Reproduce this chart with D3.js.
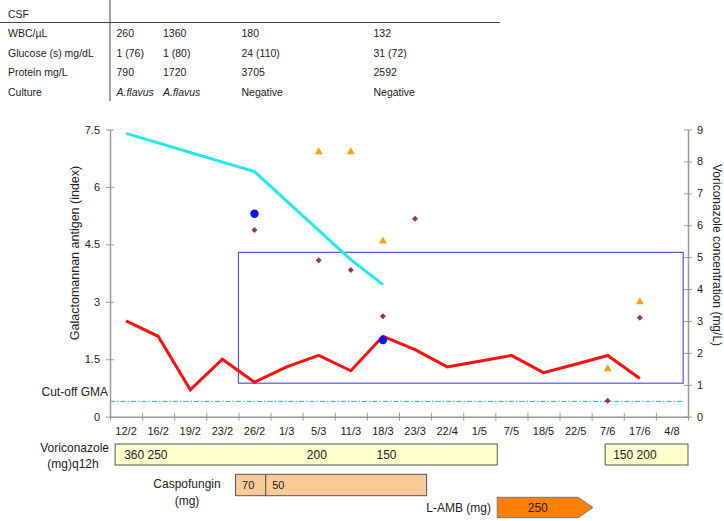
<!DOCTYPE html>
<html><head><meta charset="utf-8">
<script src="https://cdn.jsdelivr.net/npm/d3@7"></script>
<style>
body{margin:0;background:#fff;}
svg{display:block;font-family:Arial,"Liberation Sans",sans-serif;}
</style></head>
<body>
<svg id="c" width="724" height="521"></svg>
<script>
// ---- data ----
const categories = ["12/2","16/2","19/2","23/2","26/2","1/3","5/3","11/3","18/3","23/3","22/4","1/5","7/5","18/5","22/5","7/6","17/6","4/8"];
const gmaLine    = [2.5,2.1,0.7,1.5,0.9,1.3,1.6,1.2,2.1,1.75,1.3,1.45,1.6,1.15,1.37,1.6,1.0,null]; // red, left axis
const cyanLine   = [7.4,null,null,null,6.4,null,null,4.1,3.45,null,null,null,null,null,null,null,null,null]; // left axis
const blueDots   = [null,null,null,null,5.3,null,null,null,2.0,null,null,null,null,null,null,null,null,null]; // left axis
const triangles  = [null,null,null,null,null,null,8.3,8.3,5.5,null,null,null,null,null,null,1.5,3.6,null]; // right axis
const diamonds   = [null,null,null,null,5.85,null,4.9,4.6,3.15,6.2,null,null,null,null,null,0.5,3.1,null]; // right axis
const cutoffGMA  = 0.4;
const leftTicks  = [0,1.5,3,4.5,6,7.5];
const rightTicks = [0,1,2,3,4,5,6,7,8,9];
const boxSpan    = {x0:4.0, x1:17.85, y0:1.05, y1:5.15}; // right-axis units / date index

const tableRows = [
  ["WBC/\u00b5L","260","1360","180","132"],
  ["Glucose (s) mg/dL","1 (76)","1 (80)","24 (110)","31 (72)"],
  ["Protein mg/L","790","1720","3705","2592"],
  ["Culture","A.flavus","A.flavus","Negative","Negative"]
];
// treatments: [start index, end index, label]
const voriSegments  = [[0.16,12.06],[15.42,18.0]];
const voriLabels    = [[0.44,"360 250"],[6.13,"200"],[8.3,"150"],[15.67,"150 200"]];
const caspoSegments = [[3.91,4.85,"70"],[4.85,9.86,"50"]];
const lambSegment   = [12.06,14.58,15.04,"250"];

// ---- layout ----
const svg = d3.select("#c");
const X0=110, X1=688, YB=416.7, YT=129.5;
const x = d3.scaleLinear().domain([0,categories.length]).range([X0,X1]);
const yL = d3.scaleLinear().domain([0,7.5]).range([YB,YT]);
const yR = d3.scaleLinear().domain([0,9]).range([YB,YT]);
const cx = i => x(i+0.5);
const txt = "#222";

// ---- table ----
const tg = svg.append("g").attr("font-size",10.5).attr("fill",txt);
tg.append("line").attr("x1",110).attr("x2",110).attr("y1",0).attr("y2",101).attr("stroke","#444").attr("stroke-width",1);
tg.append("line").attr("x1",0).attr("x2",500).attr("y1",22.5).attr("y2",22.5).attr("stroke","#444").attr("stroke-width",1);
tg.append("text").attr("x",8).attr("y",18).text("CSF");
const colX=[8,116.5,163,241.5,373.5];
tableRows.forEach((r,ri)=>{
  r.forEach((c,ci)=>{
    const t=tg.append("text").attr("x",colX[ci]).attr("y",37+ri*19.7).text(c);
    if(ri===3 && ci>0 && ci<3) t.attr("font-style","italic");
  });
});

// ---- box ----
svg.append("rect")
  .attr("x",x(boxSpan.x0)).attr("y",yR(boxSpan.y1))
  .attr("width",x(boxSpan.x1)-x(boxSpan.x0)).attr("height",yR(boxSpan.y0)-yR(boxSpan.y1))
  .attr("fill","none").attr("stroke","#5555dd").attr("stroke-width",1.2);

// ---- cutoff ----
svg.append("line").attr("x1",X0).attr("x2",X1-4).attr("y1",yL(cutoffGMA)).attr("y2",yL(cutoffGMA))
  .attr("stroke","#36b0b0").attr("stroke-width",1).attr("stroke-dasharray","5,2,1.5,2");
svg.append("text").attr("x",108).attr("y",yL(cutoffGMA)-5).attr("text-anchor","end")
  .attr("font-size",12).attr("fill",txt).text("Cut-off GMA");

// ---- axes ----
const axCol="#999";
const axL = svg.append("g").attr("transform",`translate(${X0},0)`)
  .call(d3.axisLeft(yL).tickValues(leftTicks).tickSize(0).tickPadding(10).tickFormat(d=>d===0?"0":String(d)));
axL.select(".domain").attr("stroke",axCol).attr("stroke-width",1.5);
axL.selectAll(".tick").append("line").attr("x1",-4).attr("x2",4).attr("stroke",axCol);
axL.selectAll("text").attr("font-size",11).attr("fill",txt).attr("font-family","Arial,'Liberation Sans',sans-serif");

const axR = svg.append("g").attr("transform",`translate(${X1},0)`)
  .call(d3.axisRight(yR).tickValues(rightTicks).tickSize(0).tickPadding(9));
axR.select(".domain").attr("stroke",axCol).attr("stroke-width",1.5);
axR.selectAll(".tick").append("line").attr("x1",-4).attr("x2",4).attr("stroke",axCol);
axR.selectAll("text").attr("font-size",11).attr("fill",txt).attr("font-family","Arial,'Liberation Sans',sans-serif");

const tickIdx = d3.range(categories.length+1);
const axB = svg.append("g").attr("transform",`translate(0,${YB})`)
  .call(d3.axisBottom(x).tickValues(tickIdx).tickSize(0).tickFormat(""));
axB.select(".domain").attr("stroke",axCol).attr("stroke-width",1.5);
axB.selectAll(".tick").append("line").attr("y1",-4).attr("y2",4).attr("stroke",axCol);
svg.append("g").selectAll("text").data(categories).join("text")
  .attr("x",(d,i)=>cx(i)).attr("y",YB+18).attr("text-anchor","middle")
  .attr("font-size",11).attr("fill",txt).text(d=>d);

// axis titles
svg.append("text").attr("transform",`translate(79,253) rotate(-90)`).attr("text-anchor","middle")
  .attr("font-size",12.5).attr("fill",txt).text("Galactomannan antigen (index)");
svg.append("text").attr("transform",`translate(713,255) rotate(90)`).attr("text-anchor","middle")
  .attr("font-size",12).attr("fill",txt).text("Voriconazole concentration  (mg/L)");

// ---- lines ----
const pts = (arr,ys)=>arr.map((v,i)=>v==null?null:[cx(i),ys(v)]).filter(p=>p);
const line = d3.line();
svg.append("path").attr("d",line(pts(cyanLine,yL))).attr("fill","none").attr("stroke","#22eaea").attr("stroke-width",3);
svg.append("path").attr("d",line(pts(gmaLine,yL))).attr("fill","none").attr("stroke","#ff1010").attr("stroke-width",3);

// ---- markers ----
svg.append("g").selectAll("path").data(pts(triangles,yR)).join("path")
  .attr("transform",d=>`translate(${d[0]},${d[1]})`)
  .attr("d",d3.symbol(d3.symbolTriangle,28)).attr("fill","#f5a21b");
svg.append("g").selectAll("path").data(pts(diamonds,yR)).join("path")
  .attr("transform",d=>`translate(${d[0]},${d[1]}) rotate(45)`)
  .attr("d",d3.symbol(d3.symbolSquare,18)).attr("fill","#993366");
svg.append("g").selectAll("circle").data(pts(blueDots,yL)).join("circle")
  .attr("cx",d=>d[0]).attr("cy",d=>d[1]).attr("r",4.2).attr("fill","#0a14f0");

// ---- treatments ----
const bg = svg.append("g").attr("font-size",12).attr("fill",txt);
const VY=444, VH=21;
bg.selectAll("rect.v").data(voriSegments).join("rect").attr("class","v")
  .attr("x",d=>x(d[0])).attr("y",VY).attr("width",d=>x(d[1])-x(d[0])).attr("height",VH)
  .attr("fill","#ffffcc").attr("stroke","#555").attr("stroke-width",1);
bg.selectAll("text.v").data(voriLabels).join("text").attr("class","v")
  .attr("x",d=>x(d[0])).attr("y",VY+15).text(d=>d[1]);
bg.append("text").attr("x",109).attr("y",452).attr("text-anchor","end").text("Voriconazole");
bg.append("text").attr("x",73).attr("y",468).attr("text-anchor","middle").text("(mg)q12h");

const CY=474.3, CH=21.4;
bg.selectAll("rect.c").data(caspoSegments).join("rect").attr("class","c")
  .attr("x",d=>x(d[0])).attr("y",CY).attr("width",d=>x(d[1])-x(d[0])).attr("height",CH)
  .attr("fill","#fcca98").attr("stroke","#555").attr("stroke-width",1);
bg.selectAll("text.c").data(caspoSegments).join("text").attr("class","c")
  .attr("x",d=>x(d[0])+6.5).attr("y",CY+15).attr("font-size",11).text(d=>d[2]);
bg.append("text").attr("x",187).attr("y",488).attr("text-anchor","middle").text("Caspofungin");
bg.append("text").attr("x",187).attr("y",505).attr("text-anchor","middle").text("(mg)");

const LY=497.3, LH=20.4;
const [l0,l1,l2,lt] = lambSegment;
bg.append("path").attr("d",d3.line()([[x(l0),LY],[x(l1),LY],[x(l2),LY+LH/2],[x(l1),LY+LH],[x(l0),LY+LH]])+"Z")
  .attr("fill","#ff8000").attr("stroke","#777").attr("stroke-width",1);
bg.append("text").attr("x",(x(l0)+x(l1))/2).attr("y",LY+15).attr("text-anchor","middle").text(lt);
bg.append("text").attr("x",491).attr("y",LY+15).attr("text-anchor","end").text("L-AMB  (mg)");
</script>
</body></html>
